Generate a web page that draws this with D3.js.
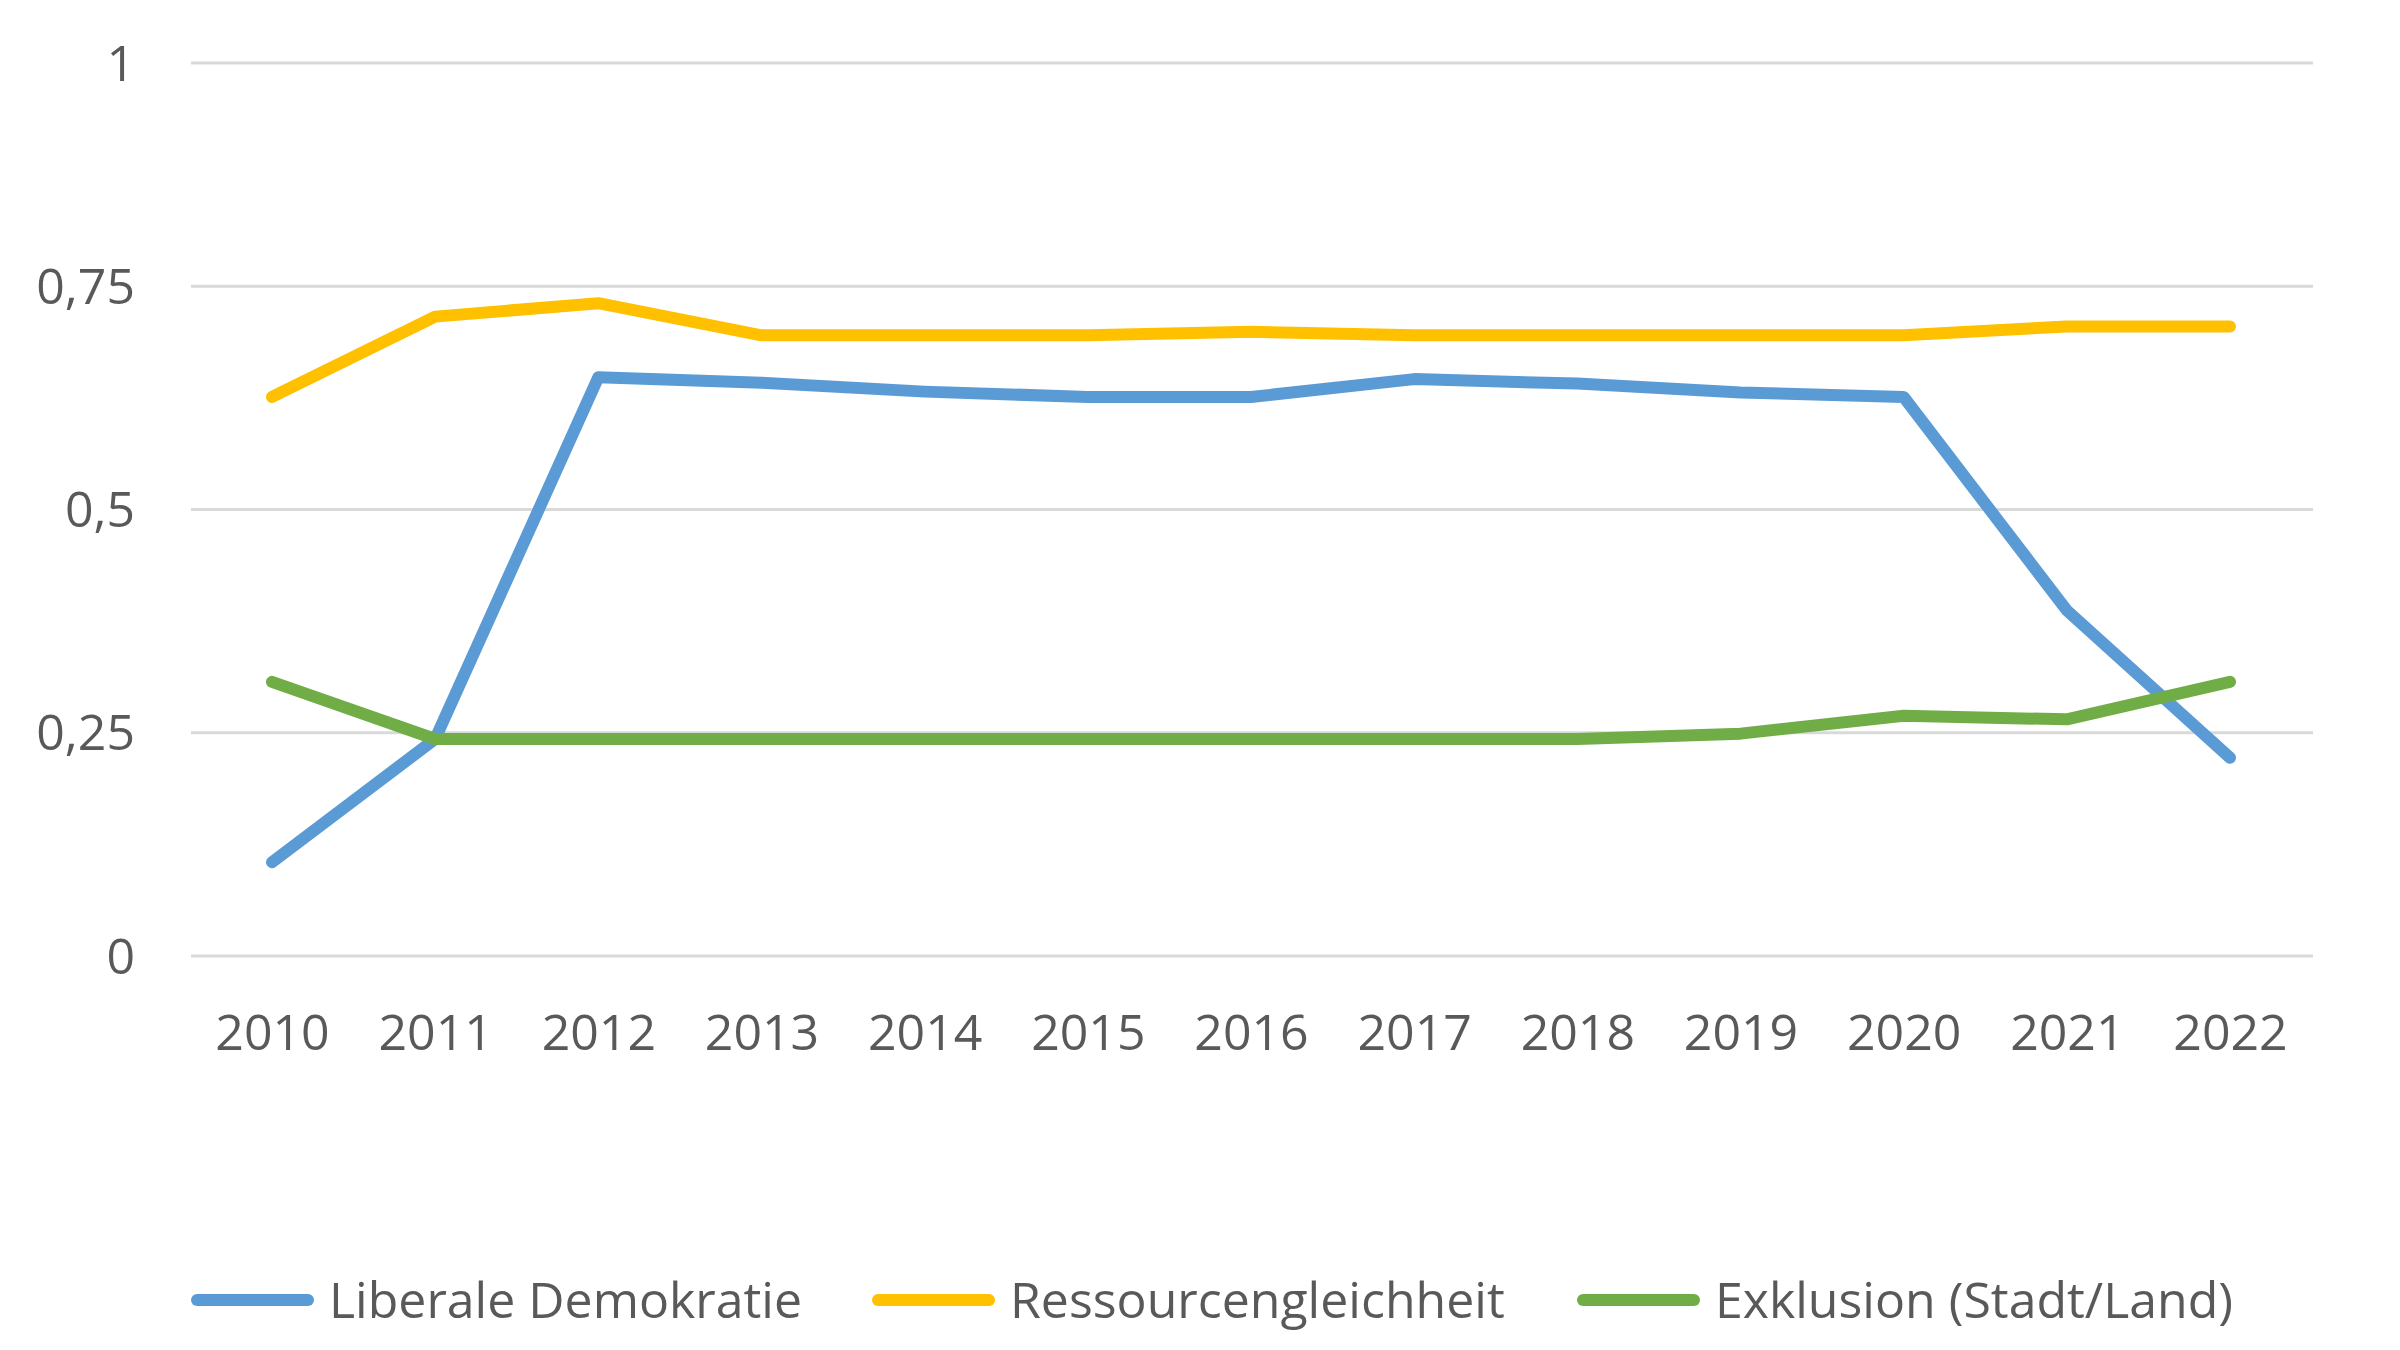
<!DOCTYPE html>
<html>
<head>
<meta charset="utf-8">
<script src="https://cdn.jsdelivr.net/npm/d3@7"></script>
<style>
  html, body { margin: 0; padding: 0; background: #ffffff; }
  svg { display: block; }
  text { font-family: "Open Sans", "Noto Sans", sans-serif; fill: #595959; }
</style>
</head>
<body>
<svg id="chart" width="2400" height="1350"></svg>
<script>
const years = ["2010","2011","2012","2013","2014","2015","2016","2017","2018","2019","2020","2021","2022"];
const liberaleDemokratie = [0.105, 0.243, 0.648, 0.642, 0.632, 0.626, 0.626, 0.646, 0.641, 0.631, 0.626, 0.387, 0.222];
const ressourcengleichheit = [0.626, 0.716, 0.731, 0.695, 0.695, 0.695, 0.699, 0.695, 0.695, 0.695, 0.695, 0.705, 0.705];
const exklusion = [0.307, 0.243, 0.243, 0.243, 0.243, 0.243, 0.243, 0.243, 0.243, 0.249, 0.269, 0.265, 0.307];
const yTicks = [0, 0.25, 0.5, 0.75, 1];
const yTickLabels = ["0", "0,25", "0,5", "0,75", "1"];
const seriesNames = ["Liberale Demokratie", "Ressourcengleichheit", "Exklusion (Stadt/Land)"];
const seriesColors = ["#5B9BD5", "#FFC000", "#70AD47"];

const series = [liberaleDemokratie, ressourcengleichheit, exklusion].map((vals, i) => ({
  name: seriesNames[i], color: seriesColors[i], values: vals
}));

const svg = d3.select("#chart");
const gridLeft = 191, gridRight = 2313;
const x = d3.scalePoint().domain(years).range([272, 2230]);
const y = d3.scaleLinear().domain([0, 1]).range([956, 63]);

// gridlines
svg.append("g").selectAll("line").data(yTicks).join("line")
  .attr("x1", gridLeft).attr("x2", gridRight)
  .attr("y1", d => y(d)).attr("y2", d => y(d))
  .attr("stroke", "#d9d9d9").attr("stroke-width", 3);

// y axis labels
const yAxis = d3.axisLeft(y).tickValues(yTicks)
  .tickFormat(d => yTickLabels[yTicks.indexOf(d)]).tickSize(0).tickPadding(0);
const yg = svg.append("g").attr("transform", "translate(135,0)").call(yAxis);
yg.select(".domain").remove();
yg.selectAll("text").attr("font-size", 50).attr("fill", "#595959")
  .attr("font-family", "'Open Sans', sans-serif").attr("dy", "0.34em");

// x axis labels
const xAxis = d3.axisBottom(x).tickSize(0).tickPadding(0);
const xg = svg.append("g").attr("transform", "translate(0,1050)").call(xAxis);
xg.select(".domain").remove();
xg.selectAll("text").attr("font-size", 50).attr("fill", "#595959")
  .attr("font-family", "'Open Sans', sans-serif").attr("dy", 0);

// lines
const line = d3.line().x((d, i) => x(years[i])).y(d => y(d));
svg.append("g").selectAll("path").data(series).join("path")
  .attr("d", d => line(d.values))
  .attr("fill", "none")
  .attr("stroke", d => d.color)
  .attr("stroke-width", 12)
  .attr("stroke-linecap", "round")
  .attr("stroke-linejoin", "round");

// legend
const legendX = [191, 872, 1577];
const legendY = 1300;
const lg = svg.append("g").selectAll("g").data(series).join("g")
  .attr("transform", (d, i) => `translate(${legendX[i]},${legendY})`);
lg.append("line").attr("x1", 6).attr("x2", 117).attr("y1", 0).attr("y2", 0)
  .attr("stroke", d => d.color).attr("stroke-width", 12).attr("stroke-linecap", "round");
lg.append("text").attr("x", 138).attr("y", 0).attr("dy", "0.35em")
  .attr("font-size", 50).text(d => d.name);
</script>
</body>
</html>
